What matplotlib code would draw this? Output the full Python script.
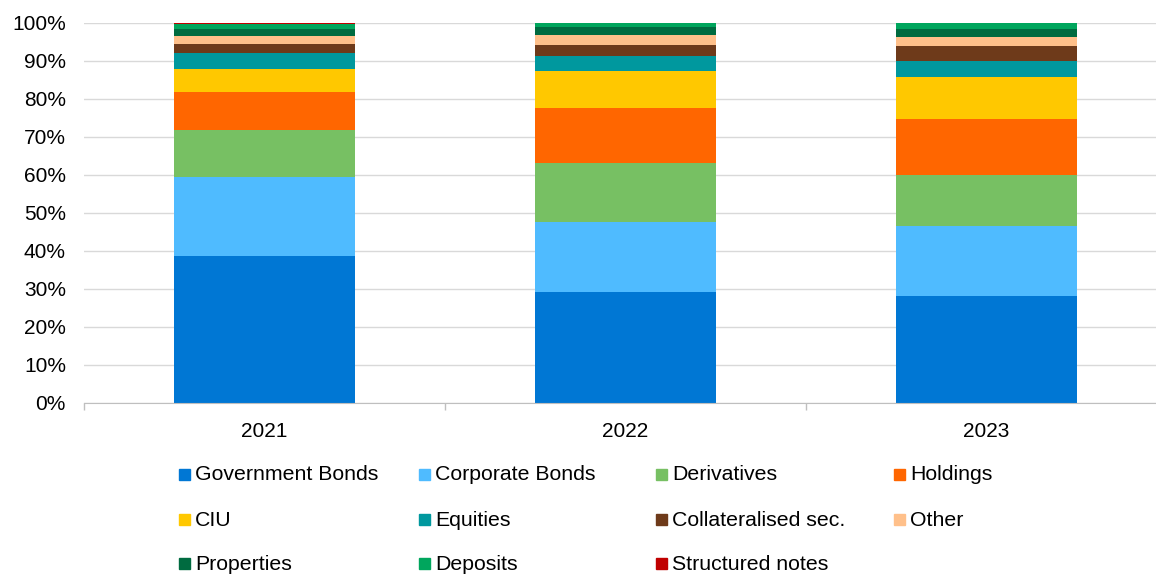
import matplotlib.pyplot as plt
import numpy as np
from matplotlib.patches import Rectangle
from matplotlib.ticker import FixedLocator, PercentFormatter

plt.rcParams['font.family'] = ['Liberation Sans', 'DejaVu Sans']

years = ['2021', '2022', '2023']

# shares of total investments, %
gov_bonds = [38.7, 29.2, 28.2]
corp_bonds = [20.8, 18.4, 18.4]
derivatives = [12.3, 15.6, 13.4]
holdings = [10.0, 14.5, 14.7]
ciu = [6.1, 9.7, 11.1]
equities = [4.3, 3.9, 4.1]
collateralised = [2.2, 3.0, 4.0]
other = [2.3, 2.6, 2.5]
properties = [1.7, 2.1, 2.0]
deposits = [1.3, 0.9, 1.5]
structured = [0.3, 0.1, 0.1]

series = [
    ('Government Bonds', gov_bonds, '#0077D4'),
    ('Corporate Bonds', corp_bonds, '#4FBBFF'),
    ('Derivatives', derivatives, '#77C063'),
    ('Holdings', holdings, '#FF6600'),
    ('CIU', ciu, '#FFC800'),
    ('Equities', equities, '#00989E'),
    ('Collateralised sec.', collateralised, '#6E3A1A'),
    ('Other', other, '#FFC08A'),
    ('Properties', properties, '#006B40'),
    ('Deposits', deposits, '#00A65D'),
    ('Structured notes', structured, '#C00000'),
]

W, H = 1156, 574
fig = plt.figure(figsize=(W / 100, H / 100), dpi=100)
ax = fig.add_axes([84 / W, (H - 403) / H, 1083 / W, 380 / H])

x = np.arange(len(years))
bottom = np.zeros(len(years))
for name, vals, color in series:
    ax.bar(x, vals, width=0.5, bottom=bottom, color=color, linewidth=0, zorder=2)
    bottom += np.array(vals)

ax.set_xlim(-0.5, 2.5)
ax.set_ylim(0, 100)
ax.set_yticks(np.arange(0, 101, 10))
ax.yaxis.set_major_formatter(PercentFormatter(decimals=0))
ax.grid(axis='y', color='#D9D9D9', linewidth=1, zorder=0)

ax.set_xticks(x)
ax.set_xticklabels(years)
ax.xaxis.set_minor_locator(FixedLocator([-0.5, 0.5, 1.5, 2.5]))
ax.tick_params(axis='x', which='major', length=0, pad=14, labelsize=15)
ax.tick_params(axis='x', which='minor', length=5, color='#BFBFBF', width=1)
ax.tick_params(axis='y', length=0, pad=13, labelsize=15)

for s in ['top', 'right', 'left']:
    ax.spines[s].set_visible(False)
ax.spines['bottom'].set_color('#BFBFBF')
ax.spines['bottom'].set_zorder(3)

# legend laid out in a 4-column grid
col_x = [179, 419, 656, 894]
row_y = [475, 520, 564]
for i, (name, vals, color) in enumerate(series):
    cx = col_x[i % 4]
    cy = row_y[i // 4]
    fig.patches.append(Rectangle((cx / W, (H - cy - 5) / H), 11 / W, 11 / H,
                                 transform=fig.transFigure, color=color))
    fig.text((cx + 16) / W, (H - cy) / H, name, fontsize=15.3,
             va='center', ha='left', color='#000000')

fig.savefig('out.png', dpi=100)
